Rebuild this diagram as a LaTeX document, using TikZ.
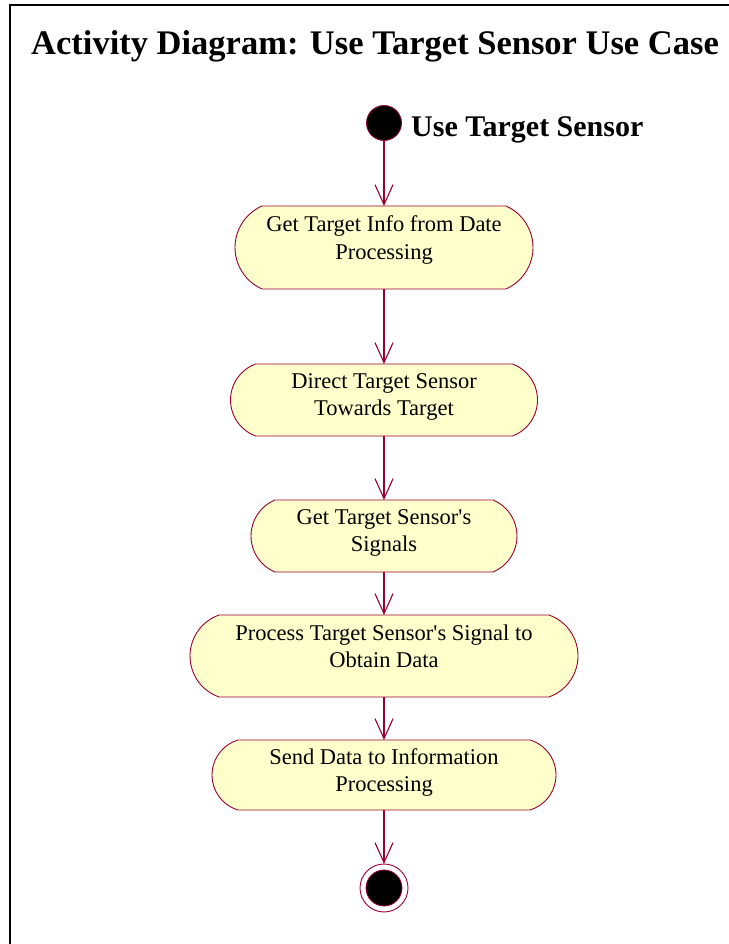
\documentclass[tikz,border=0pt]{standalone}
\usepackage{fontspec}
\setmainfont{Liberation Serif}
\usetikzlibrary{arrows.meta}
\definecolor{umlline}{RGB}{153,0,51}
\definecolor{umlfill}{RGB}{255,255,204}
\tikzset{
  actbox/.style={rectangle, inner sep=0pt, outer sep=0pt, draw=none},
  actline/.style={draw=umlline, fill=umlfill, line width=0.9pt, line join=round},
  acttext/.style={anchor=north, align=center, inner sep=0pt, font=\fontsize{22.5}{27.5}\selectfont},
  flow/.style={draw=umlline, line width=1.1pt, -{Straight Barb[length=20pt,width=18pt]}},
  startdot/.style={circle, fill=black, draw=umlline, line width=0.8pt, minimum size=35pt, inner sep=0pt, outer sep=0pt},
  endring/.style={circle, fill=white, draw=umlline, line width=0.9pt, minimum size=48pt, inner sep=0pt, outer sep=0pt},
  enddot/.style={circle, fill=black, draw=umlline, line width=0.8pt, minimum size=36pt, inner sep=0pt, outer sep=0pt},
}
\newcommand\actoutline[3]{%
  \pgfmathsetmacro\actrad{(#3*#3+#2*#2)/(2*#2)}%
  \pgfmathsetmacro\actang{asin(#3/\actrad)}%
  \draw[actline] ([xshift=#2pt]#1.north west) -- ([xshift=-#2pt]#1.north east)
    arc[start angle=\actang, end angle=-\actang, radius=\actrad pt]
    -- ([xshift=#2pt]#1.south west)
    arc[start angle=180+\actang, end angle=180-\actang, radius=\actrad pt] -- cycle;}
\begin{document}
\begin{tikzpicture}[x=1pt,y=1pt]
\useasboundingbox (0,0) rectangle (728,944);
% frame
\draw[line width=2pt] (10,0) -- (10,939) -- (730,939);
% title
\node[anchor=base west, inner sep=0pt, font=\bfseries\fontsize{34.5}{40}\selectfont] (title) at (31,889) {Activity Diagram: Use Target Sensor Use Case};
% start
\node[startdot] (start) at (384,821) {};
\node[anchor=base west, inner sep=0pt, font=\bfseries\fontsize{30}{36}\selectfont] (lbl) at (411,807) {Use Target Sensor};
% activities
\node[actbox, minimum width=298pt, minimum height=83pt] (n1) at (384,696.5) {};
\node[actbox, minimum width=307pt, minimum height=72pt] (n2) at (384,544) {};
\node[actbox, minimum width=266pt, minimum height=72pt] (n3) at (384,408) {};
\node[actbox, minimum width=388pt, minimum height=82pt] (n4) at (384,288) {};
\node[actbox, minimum width=344pt, minimum height=70pt] (n5) at (384,169) {};
\actoutline{n1}{27}{41.5}
\actoutline{n2}{25}{36}
\actoutline{n3}{24}{36}
\actoutline{n4}{29}{41}
\actoutline{n5}{26}{35}
\node[acttext] (t1) at ([yshift=-9.5pt]n1.north) {Get Target Info from Date\\Processing};
\node[acttext] (t2) at ([yshift=-9pt]n2.north) {Direct Target Sensor\\Towards Target};
\node[acttext] (t3) at ([yshift=-9pt]n3.north) {Get Target Sensor\textquotesingle s\\Signals};
\node[acttext] (t4) at ([yshift=-9.5pt]n4.north) {Process Target Sensor\textquotesingle s Signal to\\Obtain Data};
\node[acttext] (t5) at ([yshift=-8pt]n5.north) {Send Data to Information\\Processing};
% end
\node[endring] (end) at (384,56) {};
\node[enddot] (endin) at (end.center) {};
% flows
\draw[flow] (start.south) -- (n1.north);
\draw[flow] (n1.south) -- (n2.north);
\draw[flow] (n2.south) -- (n3.north);
\draw[flow] (n3.south) -- (n4.north);
\draw[flow] (n4.south) -- (n5.north);
\draw[flow] (n5.south) -- (end.north);
\end{tikzpicture}
\end{document}
